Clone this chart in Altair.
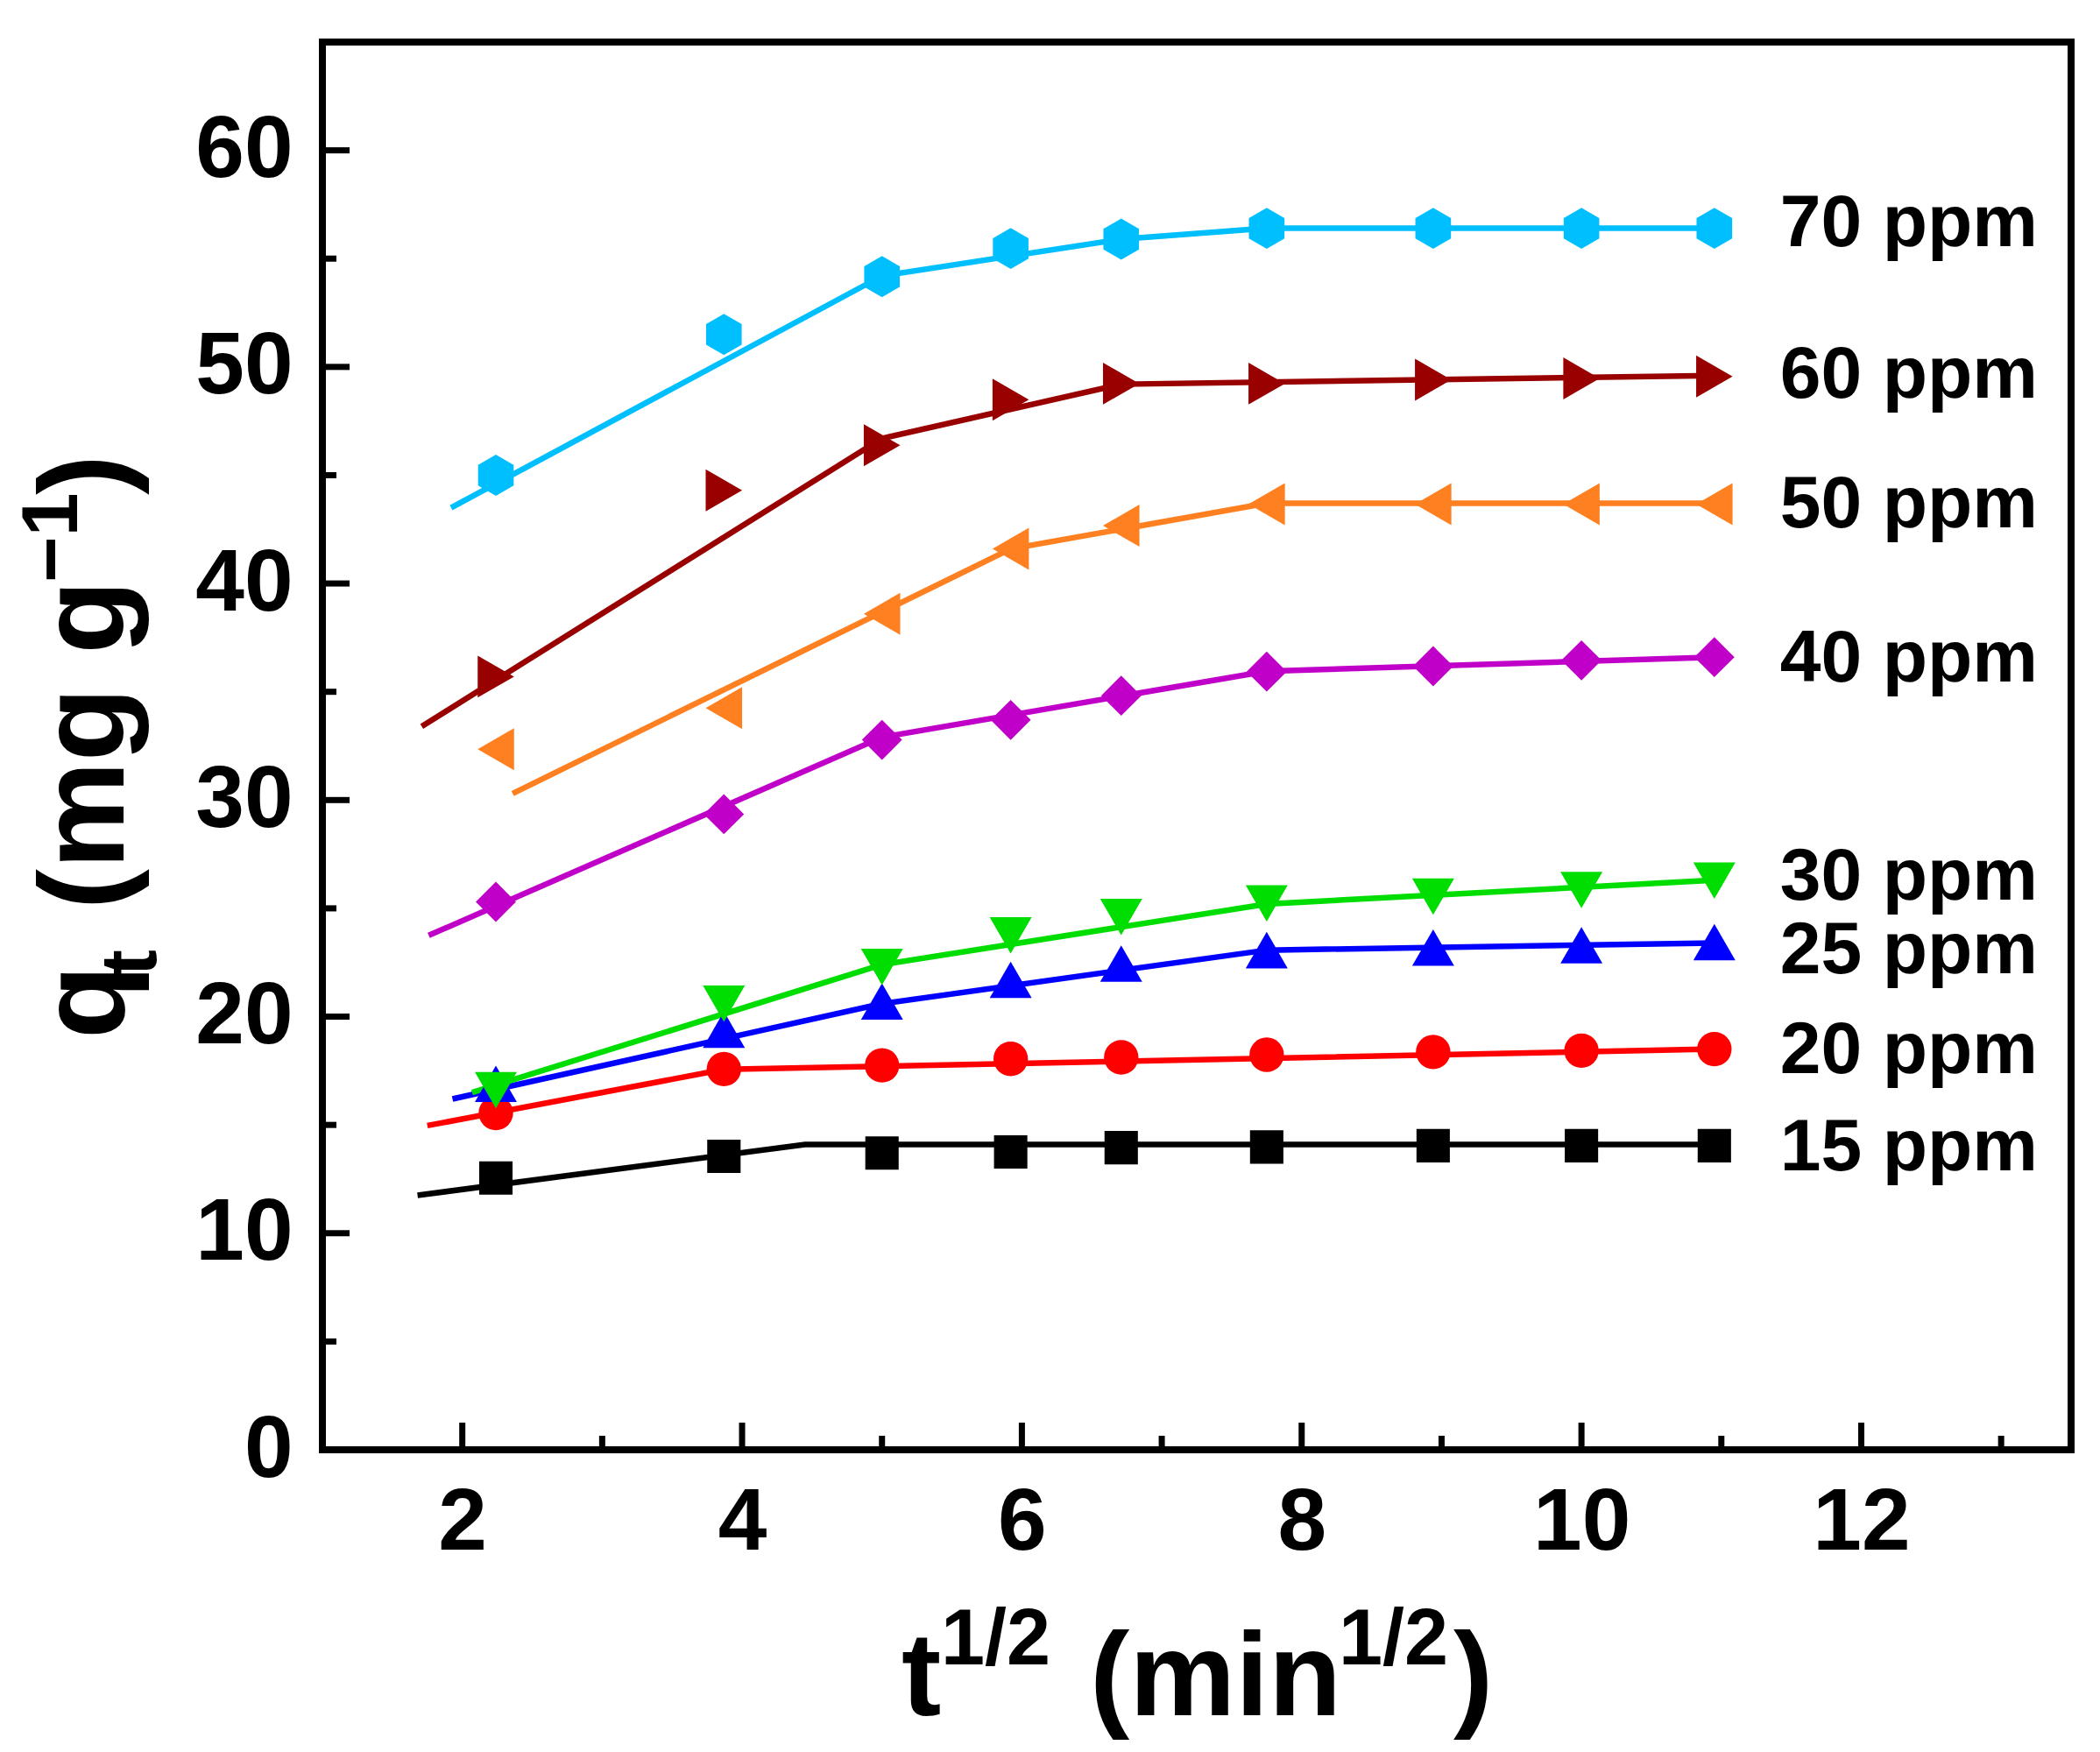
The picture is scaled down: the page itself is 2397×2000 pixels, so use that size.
import altair as alt
import pandas as pd

# ---------------- data ----------------
series = ["15 ppm", "20 ppm", "25 ppm", "30 ppm", "40 ppm", "50 ppm", "60 ppm", "70 ppm"]
t_sqrt = [2.24, 3.87, 5.0, 5.92, 6.71, 7.75, 8.94, 10.0, 10.95]

q15 = [12.55, 13.55, 13.7, 13.75, 13.95, 13.98, 14.04, 14.04, 14.04]
q20 = [15.55, 17.58, 17.75, 18.05, 18.12, 18.24, 18.37, 18.43, 18.5]
q25 = [16.9, 19.4, 20.7, 21.7, 22.45, 23.07, 23.19, 23.3, 23.44]
q30 = [16.6, 20.6, 22.3, 23.75, 24.6, 25.23, 25.54, 25.85, 26.28]
q40 = [25.3, 29.35, 32.78, 33.7, 34.82, 35.93, 36.18, 36.45, 36.6]
q50 = [32.35, 34.25, 38.6, 41.6, 42.67, 43.66, 43.66, 43.66, 43.66]
q60 = [35.7, 44.3, 46.38, 48.49, 49.23, 49.23, 49.41, 49.47, 49.56]
q70 = [45.0, 51.5, 54.17, 55.47, 55.9, 56.4, 56.4, 56.4, 56.4]

# multilinear fit lines (vertices)
fit15_x = [1.68, 4.45, 10.95]
fit15_y = [11.75, 14.1, 14.1]
fit20_x = [1.75, 3.87, 10.95]
fit20_y = [14.97, 17.56, 18.5]
fit25_x = [1.93, 5.0, 7.75, 10.95]
fit25_y = [16.2, 20.6, 23.07, 23.4]
fit30_x = [2.07, 5.0, 7.75, 10.95]
fit30_y = [16.5, 22.4, 25.2, 26.3]
fit40_x = [1.76, 5.0, 7.75, 10.95]
fit40_y = [23.75, 32.9, 35.95, 36.6]
fit50_x = [2.36, 5.92, 7.75, 10.95]
fit50_y = [30.3, 41.6, 43.7, 43.7]
fit60_x = [1.71, 5.0, 6.71, 10.95]
fit60_y = [33.4, 46.7, 49.2, 49.6]
fit70_x = [1.92, 5.0, 6.71, 7.75, 10.95]
fit70_y = [43.5, 54.2, 55.9, 56.4, 56.4]

label_x = [11.42] * 8
label_y = [13.9, 18.4, 23.0, 26.4, 36.5, 43.6, 49.6, 56.6]

x_ticks_major = [2, 4, 6, 8, 10, 12]
x_ticks_minor = [3, 5, 7, 9, 11, 13]
y_ticks_major = [0, 10, 20, 30, 40, 50, 60]
y_ticks_minor = [5, 15, 25, 35, 45, 55]

# ---------------- styles ----------------
colors = ["#000000", "#FF0000", "#0000FF", "#00DD00", "#C000C8", "#FF8020", "#990000", "#00BFFF"]
hexagon = "M0,-1L0.866,-0.5L0.866,0.5L0,1L-0.866,0.5L-0.866,-0.5Z"
shapes = ["square", "circle", "triangle-up", "triangle-down", "diamond",
          "triangle-left", "triangle-right", hexagon]
sizes = [1450, 1550, 2300, 2300, 2100, 2300, 2300, 2200]

FONT = "Liberation Sans"
W, H = 1996, 1607

q_all = [q15, q20, q25, q30, q40, q50, q60, q70]
fx_all = [fit15_x, fit20_x, fit25_x, fit30_x, fit40_x, fit50_x, fit60_x, fit70_x]
fy_all = [fit15_y, fit20_y, fit25_y, fit30_y, fit40_y, fit50_y, fit60_y, fit70_y]

fits = pd.DataFrame([{"series": s, "x": x, "q": v}
                     for s, xs, ys in zip(series, fx_all, fy_all) for x, v in zip(xs, ys)])
labels = pd.DataFrame({"series": series, "x": label_x, "q": label_y})

xscale = alt.Scale(domain=[1, 13.5], nice=False, zero=False)
yscale = alt.Scale(domain=[0, 65], nice=False, zero=False)
cscale = alt.Scale(domain=series, range=colors)

xaxis = alt.Axis(values=x_ticks_major, format="d", title=None, labelFontSize=100, labelFont=FONT,
                 labelFontWeight="bold", labelColor="black", labelPadding=34, labelLimit=500,
                 domain=False, ticks=False, tickSize=0, grid=False)
yaxis = alt.Axis(values=y_ticks_major, format="d", title=None, labelFontSize=100, labelFont=FONT,
                 labelFontWeight="bold", labelColor="black", labelPadding=34, labelLimit=500,
                 domain=False, ticks=False, tickSize=0, grid=False)

lines = alt.Chart(fits).mark_line(strokeWidth=6.5).encode(
    x=alt.X("x:Q", scale=xscale, axis=xaxis),
    y=alt.Y("q:Q", scale=yscale, axis=yaxis),
    color=alt.Color("series:N", scale=cscale, legend=None),
    detail="series:N",
)

point_layers = []
for s, qs, col, shp, sz in zip(series, q_all, colors, shapes, sizes):
    df = pd.DataFrame({"x": t_sqrt, "q": qs})
    point_layers.append(
        alt.Chart(df).mark_point(filled=True, opacity=1, strokeWidth=0, color=col,
                                 shape=shp, size=sz).encode(
            x=alt.X("x:Q", scale=xscale),
            y=alt.Y("q:Q", scale=yscale),
        )
    )

texts = alt.Chart(labels).mark_text(align="left", baseline="middle", fontSize=84,
                                    font=FONT, fontWeight="bold", color="black").encode(
    x=alt.X("x:Q", scale=xscale),
    y=alt.Y("q:Q", scale=yscale),
    text="series:N",
)

# inward ticks
xmaj = alt.Chart(pd.DataFrame({"v": x_ticks_major})).mark_rule(color="black", strokeWidth=7).encode(
    x=alt.X("v:Q", scale=xscale), y=alt.value(H), y2=alt.value(H - 31))
xmin = alt.Chart(pd.DataFrame({"v": x_ticks_minor})).mark_rule(color="black", strokeWidth=7).encode(
    x=alt.X("v:Q", scale=xscale), y=alt.value(H), y2=alt.value(H - 16))
ymaj = alt.Chart(pd.DataFrame({"v": y_ticks_major})).mark_rule(color="black", strokeWidth=7).encode(
    y=alt.Y("v:Q", scale=yscale), x=alt.value(0), x2=alt.value(31))
ymin = alt.Chart(pd.DataFrame({"v": y_ticks_minor})).mark_rule(color="black", strokeWidth=7).encode(
    y=alt.Y("v:Q", scale=yscale), x=alt.value(0), x2=alt.value(16))


def piece(txt, x, y, size, angle=0):
    return alt.Chart(pd.DataFrame({"s": [txt]})).mark_text(
        align="left", baseline="alphabetic", fontSize=size, font=FONT,
        fontWeight="bold", color="black", angle=angle).encode(
        text="s:N", x=alt.value(x), y=alt.value(y))


xtitle = [
    piece("t", 661, 1910, 136),
    piece("1/2", 706, 1852, 90),
    piece("(min", 876, 1910, 136),
    piece("1/2", 1160, 1852, 90),
    piece(")", 1291, 1910, 136),
]
ytitle = [
    piece("q", -227, 1138, 138, 270),
    piece("t", -190, 1066, 90, 270),
    piece("(mg g", -227, 990, 138, 270),
    piece("\u22121", -280, 617, 90, 270),
    piece(")", -227, 517, 138, 270),
]

chart = alt.layer(lines, *point_layers, texts, xmaj, xmin, ymaj, ymin, *xtitle, *ytitle).properties(
    width=W, height=H,
    autosize=alt.AutoSizeParams(type="none"),
    padding={"left": 360, "top": 40, "right": 25, "bottom": 345},
    background="white",
).configure_view(stroke="black", strokeWidth=8)

chart.save("out.html", embed_options={"renderer": "svg", "actions": False})
